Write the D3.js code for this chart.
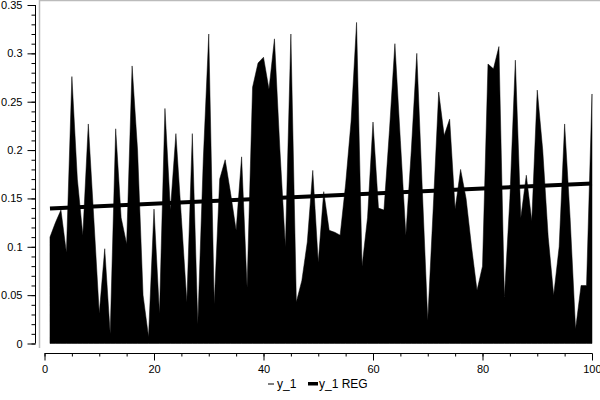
<!DOCTYPE html>
<html>
<head>
<meta charset="utf-8">
<script src="https://cdn.jsdelivr.net/npm/d3@7"></script>
<style>
  body { margin: 0; background: #fff; }
  text { font-family: "Liberation Sans", Arial, sans-serif; font-size: 11px; fill: #000; }
</style>
</head>
<body>
<svg id="chart" width="600" height="400"></svg>
<script>
// y_1 values for x = 1..100
const xs = d3.range(1, 101);
const y1 = [
  0.11, 0.125, 0.138, 0.094, 0.276, 0.17, 0.112, 0.227, 0.13, 0.031,
  0.098, 0.01, 0.222, 0.13, 0.103, 0.287, 0.2, 0.05, 0.007, 0.139,
  0.031, 0.243, 0.138, 0.217, 0.13, 0.043, 0.217, 0.02, 0.19, 0.32,
  0.041, 0.17, 0.19, 0.155, 0.117, 0.193, 0.058, 0.265, 0.29, 0.296,
  0.263, 0.315, 0.2, 0.1, 0.32, 0.043, 0.065, 0.105, 0.179, 0.084,
  0.157, 0.117, 0.115, 0.112, 0.165, 0.23, 0.332, 0.08, 0.13, 0.229,
  0.14, 0.138, 0.22, 0.31, 0.21, 0.112, 0.2, 0.30, 0.16, 0.024,
  0.14, 0.26, 0.215, 0.232, 0.139, 0.18, 0.15, 0.1, 0.055, 0.08,
  0.289, 0.284, 0.307, 0.048, 0.15, 0.293, 0.13, 0.174, 0.127, 0.262,
  0.2, 0.11, 0.05, 0.1, 0.227, 0.13, 0.015, 0.06, 0.06, 0.258
];
// regression line end points
const regX = [1, 100];
const regY = [0.1395, 0.1655];
const xTicks = [0, 20, 40, 60, 80, 100];
const yTicks = [0, 0.05, 0.1, 0.15, 0.2, 0.25, 0.3, 0.35];
const legendNames = ["y_1", "y_1 REG"];

const svg = d3.select("#chart");

var x = d3.scaleLinear().domain([0, 100]).range([44.5, 592]);
var y = d3.scaleLinear().domain([0, 0.35]).range([343.5, 5]);

// plot frame (grey, top + left)
svg.append("line").attr("x1", 39.5).attr("x2", 600).attr("y1", 0.5).attr("y2", 0.5)
   .attr("stroke", "#bbb").attr("stroke-width", 1.5);
svg.append("line").attr("x1", 39.5).attr("x2", 39.5).attr("y1", 0).attr("y2", 348)
   .attr("stroke", "#bbb").attr("stroke-width", 1.5);

// area
const pts = xs.map((d, i) => ({x: d, y: y1[i]}));
svg.append("path")
   .datum(pts)
   .attr("fill", "#000")
   .attr("stroke", "#000")
   .attr("stroke-width", 0.5)
   .attr("d", d3.area().x(d => x(d.x)).y0(y(0)).y1(d => y(d.y)));

// regression
svg.append("path")
   .datum(regX.map((d, i) => ({x: d, y: regY[i]})))
   .attr("fill", "none")
   .attr("stroke", "#000")
   .attr("stroke-width", 4)
   .attr("d", d3.line().x(d => x(d.x)).y(d => y(d.y)));

// y axis: minor then major
var yAxisX = 35.5;
svg.append("g")
   .attr("transform", "translate(" + yAxisX + ",0)")
   .call(d3.axisLeft(y).tickValues(d3.range(0, 0.3501, 0.01)).tickSize(4).tickSizeOuter(0).tickFormat(""))
   .call(g => g.select(".domain").remove());
svg.append("g")
   .attr("transform", "translate(" + yAxisX + ",0)")
   .call(d3.axisLeft(y).tickValues(yTicks).tickSize(8).tickSizeOuter(0).tickPadding(5)
         .tickFormat(d => d3.format("")(+d.toFixed(2))))
   .call(g => g.select(".domain").attr("d", "M0," + y(0.35) + "V" + y(0)));

// x axis
var xAxisY = 353.5;
svg.append("g")
   .attr("transform", "translate(0," + xAxisY + ")")
   .call(d3.axisBottom(x).tickValues(d3.range(0, 101, 5)).tickSize(3).tickSizeOuter(0).tickFormat(""))
   .call(g => g.select(".domain").remove());
const xg = svg.append("g")
   .attr("transform", "translate(0," + xAxisY + ")")
   .call(d3.axisBottom(x).tickValues(xTicks).tickSize(7).tickSizeOuter(0).tickPadding(5))
   .call(g => g.select(".domain").attr("d", "M" + x(0) + ",0H" + x(100)));
// keep the last label inside the window
xg.selectAll(".tick text").filter(d => d === 100).attr("text-anchor", "end").attr("dx", "9");

svg.selectAll(".tick text").style("font-size", "11px").attr("fill", "#000");
svg.selectAll(".domain, .tick line").attr("stroke", "#000");

// legend
const lg = svg.append("g").attr("transform", "translate(264,384)");
lg.append("line").attr("x1", 4).attr("x2", 10).attr("y1", 0).attr("y2", 0)
  .attr("stroke", "#000").attr("stroke-width", 1);
lg.append("text").attr("x", 13).attr("y", 4).text(legendNames[0]);
lg.append("rect").attr("x", 44).attr("y", -2).attr("width", 10).attr("height", 3.5).attr("fill", "#000");
lg.append("text").attr("x", 55).attr("y", 4).text(legendNames[1]);
lg.selectAll("text").style("font-size", "12px");
</script>
</body>
</html>
